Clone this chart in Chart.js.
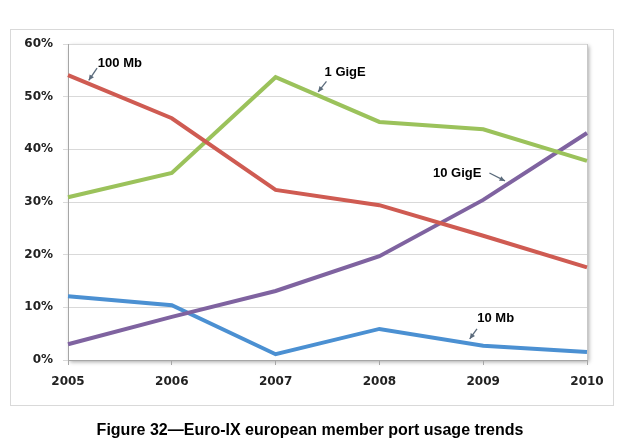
<!DOCTYPE html>
<html>
<head>
<meta charset="utf-8">
<script src="https://cdn.jsdelivr.net/npm/chart.js@4"></script>
<style>
    html, body { margin: 0; padding: 0; background: #fff; }
    #wrap { position: relative; width: 620px; height: 441px; overflow: hidden; }
    #frame {
        position: absolute; left: 10px; top: 29px; width: 602px; height: 375px;
        border: 1px solid #d9d9d9;
    }
    #chart { position: absolute; left: 0; top: 0; }
    #caption {
        position: absolute; left: 0; top: 421px; width: 620px; text-align: center;
        font: bold 16px "Liberation Sans", Arial, sans-serif; color: #000;
    }
</style>
</head>
<body>
<div id="wrap">
    <div id="frame"></div>
    <canvas id="chart" width="620" height="441"></canvas>
    <div id="caption">Figure 32—Euro-IX european member port usage trends</div>
</div>
<script>
const years = ['2005', '2006', '2007', '2008', '2009', '2010'];
const mb10 = [12.1, 10.4, 1.1, 5.9, 2.7, 1.5];
const mb100 = [54.1, 45.9, 32.3, 29.4, 23.6, 17.6];
const gige1 = [30.9, 35.5, 53.7, 45.2, 43.8, 37.8];
const gige10 = [3.0, 8.2, 13.1, 19.7, 30.4, 43.1];

// label callouts: text position and arrow tail/head, in (year index, percent)
const callouts = [
    { text: '100 Mb', at: [0.50, 56.4], from: [0.28, 55.4], to: [0.20, 53.1] },
    { text: '1 GigE', at: [2.67, 54.6], from: [2.49, 52.9], to: [2.41, 50.9] },
    { text: '10 GigE', at: [3.75, 35.5], from: [4.06, 35.5], to: [4.21, 34.0] },
    { text: '10 Mb', at: [4.12, 7.8], from: [3.94, 5.9], to: [3.87, 4.0] },
];

const plotShadow = {
    id: 'plotShadow',
    beforeDraw(chart) {
        const { ctx, chartArea: a } = chart;
        ctx.save();
        ctx.shadowColor = 'rgba(0,0,0,0.35)';
        ctx.shadowBlur = 4;
        ctx.shadowOffsetX = 2;
        ctx.shadowOffsetY = 2;
        ctx.fillStyle = '#fff';
        ctx.fillRect(a.left, a.top, a.right - a.left, a.bottom - a.top);
        ctx.restore();
        ctx.save();
        ctx.strokeStyle = '#c8c8c8';
        ctx.lineWidth = 1;
        ctx.beginPath();
        ctx.moveTo(a.right + 0.5, a.top);
        ctx.lineTo(a.right + 0.5, a.bottom);
        ctx.stroke();
        ctx.restore();
    },
};

const calloutPlugin = {
    id: 'callouts',
    afterDatasetsDraw(chart) {
        const { ctx, scales: { x, y } } = chart;
        const px = (p) => [x.getPixelForValue(p[0]), y.getPixelForValue(p[1])];
        ctx.save();
        callouts.forEach((c) => {
            const [tx, ty] = px(c.at);
            ctx.font = 'bold 13px "Liberation Sans", Arial, sans-serif';
            ctx.fillStyle = '#000';
            ctx.textAlign = 'center';
            ctx.textBaseline = 'middle';
            ctx.fillText(c.text, tx, ty);

            const [x1, y1] = px(c.from);
            const [x2, y2] = px(c.to);
            const ang = Math.atan2(y2 - y1, x2 - x1);
            ctx.strokeStyle = '#5b6b7c';
            ctx.fillStyle = '#5b6b7c';
            ctx.lineWidth = 1.3;
            ctx.beginPath();
            ctx.moveTo(x1, y1);
            ctx.lineTo(x2, y2);
            ctx.stroke();
            ctx.beginPath();
            ctx.moveTo(x2, y2);
            ctx.lineTo(x2 - 6 * Math.cos(ang - 0.45), y2 - 6 * Math.sin(ang - 0.45));
            ctx.lineTo(x2 - 6 * Math.cos(ang + 0.45), y2 - 6 * Math.sin(ang + 0.45));
            ctx.closePath();
            ctx.fill();
        });
        ctx.restore();
    },
};

function series(data, color) {
    return {
        data,
        borderColor: color,
        borderWidth: 4,
        pointRadius: 0,
        tension: 0,
        fill: false,
    };
}

const tickFont = { family: '"DejaVu Sans", Verdana, sans-serif', size: 12, weight: 'bold' };

new Chart(document.getElementById('chart'), {
    type: 'line',
    data: {
        labels: years,
        datasets: [
            series(mb100, '#cf5b52'),
            series(gige1, '#9bc25b'),
            series(gige10, '#7f63a0'),
            series(mb10, '#4b90d2'),
        ],
    },
    options: {
        responsive: false,
        animation: false,
        layout: { padding: { left: 20, right: 33, top: 44, bottom: 51 } },
        plugins: { legend: { display: false }, tooltip: { enabled: false } },
        scales: {
            x: {
                offset: false,
                grid: { drawOnChartArea: false, drawTicks: true, tickLength: 5, color: '#a6a6a6' },
                border: { color: '#a6a6a6' },
                ticks: { font: tickFont, color: '#222', padding: 10, maxRotation: 0 },
                afterFit(scale) { scale.height = 30; },
            },
            y: {
                min: 0,
                max: 60,
                grid: { color: '#d9d9d9', tickLength: 5 },
                border: { color: '#a6a6a6' },
                ticks: {
                    stepSize: 10,
                    font: tickFont,
                    color: '#222',
                    padding: 10,
                    callback: (v) => v + '%',
                },
                afterFit(scale) { scale.width = 48; },
            },
        },
    },
    plugins: [plotShadow, calloutPlugin],
});
</script>
</body>
</html>
